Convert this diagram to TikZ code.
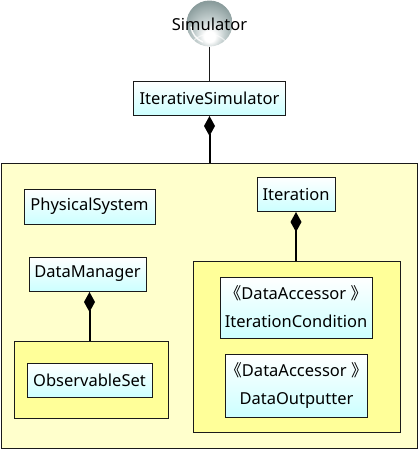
\documentclass[tikz,border=0pt]{standalone}
\usepackage{fontspec}
\setmainfont{Noto Sans}
\newfontfamily\cjkf{Noto Sans CJK SC}
\usetikzlibrary{arrows.meta,shadings}
\newcommand{\stereo}{{\cjkf《}DataAccessor {\cjkf》}}
\definecolor{edgeC}{HTML}{1A1A1A}
\definecolor{outerY}{HTML}{FFFFCC}
\definecolor{innerY}{HTML}{FFFF99}
\definecolor{cyanB}{HTML}{CCFFFF}
\definecolor{sphereB}{HTML}{C4CFCF}
\definecolor{sphereC}{HTML}{8A9C9C}
\definecolor{sphereD}{HTML}{6F8282}
\pgfdeclareradialshading{sphereS}{\pgfpoint{0bp}{-16bp}}{
  color(0bp)=(white);
  color(6bp)=(white);
  color(16bp)=(sphereB);
  color(30bp)=(sphereC);
  color(50bp)=(sphereD)}
\tikzset{
  x=1pt,y=-1pt,
  every node/.style={font=\fontsize{16.5}{27.5}\selectfont,text=black,inner sep=0pt,outer sep=0pt},
  classbox/.style={draw=edgeC,line width=0.9pt,top color=white,bottom color=cyanB,align=center},
  outerbox/.style={draw=edgeC,line width=0.9pt,fill=outerY},
  innerbox/.style={draw=edgeC,line width=0.9pt,fill=innerY},
  thinlink/.style={draw=edgeC,line width=0.9pt},
  complink/.style={draw=black,line width=2pt,{Diamond[length=20pt,width=11pt,sep=1pt]}-},
}
\begin{document}
\begin{tikzpicture}
\useasboundingbox (0,0) rectangle (418,450);
\fill[white] (0,0) rectangle (418,450);
\node[outerbox,minimum width=416pt,minimum height=285pt] (outer) at (209,305.5) {};
\node[innerbox,minimum width=153.5pt,minimum height=77pt] (leftgrp) at (91.2,379.5) {};
\node[innerbox,minimum width=207pt,minimum height=171pt] (rightgrp) at (296.5,346.5) {};
\node[circle,minimum size=46pt,shading=sphereS] (sim) at (209.5,23.5) {};
\draw[white,line width=1.4pt,line cap=round,opacity=0.9] (191,27) arc[start angle=172,end angle=112,radius=19];
\draw[white,line width=1.2pt,opacity=0.55] (193,41) arc[start angle=225,end angle=315,radius=23];
\node[classbox,minimum width=152pt,minimum height=34pt] (itsim) at (209.5,98) {IterativeSimulator};
\node[classbox,minimum width=131pt,minimum height=35pt] (phys) at (89.5,206.5) {PhysicalSystem};
\node[classbox,minimum width=117pt,minimum height=34pt] (dm) at (87.5,274) {DataManager};
\node[classbox,minimum width=125pt,minimum height=34pt] (obs) at (89.5,380) {ObservableSet};
\node[classbox,minimum width=78pt,minimum height=34pt] (iter) at (296,194) {Iteration};
\node[classbox,minimum width=152pt,minimum height=61pt] (cond) at (296,307.5) {\raisebox{3pt}{\stereo}\\\raisebox{2pt}{IterationCondition}};
\node[classbox,minimum width=141pt,minimum height=63pt] (outp) at (296.5,385.5) {\raisebox{3pt}{\stereo}\\\raisebox{2pt}{DataOutputter}};
\node (simtext) at (209.5,24) {Simulator};
\coordinate (dmdown) at (89.5,291);
\coordinate (dmgrp) at (89.5,341);
\draw[thinlink] (sim.south) -- (itsim.north);
\draw[complink] (itsim.south) -- (outer.north -| itsim.south);
\draw[complink] (dmdown) -- (dmgrp);
\draw[complink,shorten >=0.5pt] (iter.south) -- (rightgrp.north -| iter.south);
\end{tikzpicture}
\end{document}
